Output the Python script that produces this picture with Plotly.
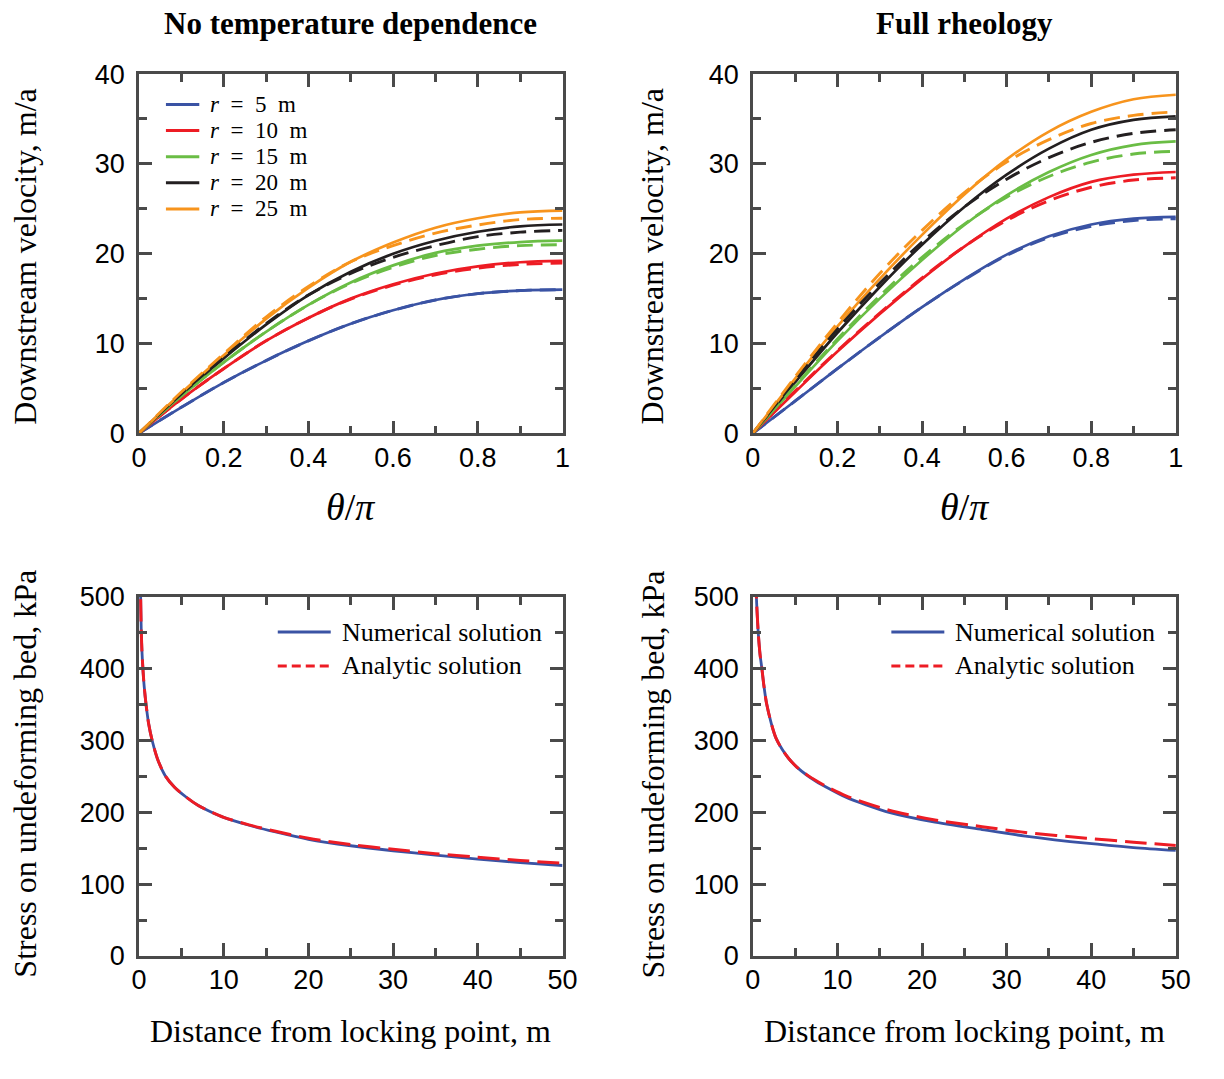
import plotly.graph_objects as go

# figure size; the page body keeps its default 8px margin around the figure
FIG_W, FIG_H = 1208, 1063
OFF_X, OFF_Y = 8, 8

# ---------------- data ----------------
theta = [0, 0.1, 0.2, 0.3, 0.4, 0.5, 0.6, 0.7, 0.8, 0.9, 1.0]
radii = [5, 10, 15, 20, 25]
r_colors = ["#3a53a4", "#ed1c24", "#6abd45", "#231f20", "#f7941d"]

# No temperature dependence: numerical (solid) and analytic (dashed), m/a
ntd_num_r5 = [0, 2.9, 5.65, 8.1, 10.3, 12.2, 13.7, 14.85, 15.55, 15.9, 16.0]
ntd_ana_r5 = [0, 2.9, 5.65, 8.1, 10.3, 12.2, 13.7, 14.85, 15.55, 15.9, 16.0]
ntd_num_r10 = [0, 3.8, 7.2, 10.3, 12.85, 15.0, 16.6, 17.8, 18.6, 19.05, 19.2]
ntd_ana_r10 = [0, 3.8, 7.2, 10.3, 12.85, 14.95, 16.5, 17.65, 18.4, 18.8, 18.95]
ntd_num_r15 = [0, 4.15, 7.9, 11.3, 14.3, 16.8, 18.7, 20.1, 20.9, 21.3, 21.45]
ntd_ana_r15 = [0, 4.15, 7.9, 11.3, 14.3, 16.7, 18.5, 19.8, 20.5, 20.9, 21.0]
ntd_num_r20 = [0, 4.35, 8.35, 12.1, 15.4, 18.0, 20.0, 21.45, 22.45, 23.05, 23.25]
ntd_ana_r20 = [0, 4.4, 8.45, 12.2, 15.4, 17.8, 19.6, 20.9, 21.9, 22.4, 22.6]
ntd_num_r25 = [0, 4.5, 8.7, 12.75, 16.2, 19.1, 21.25, 22.9, 23.95, 24.6, 24.8]
ntd_ana_r25 = [0, 4.6, 8.85, 12.95, 16.35, 19.1, 20.9, 22.3, 23.2, 23.8, 23.95]

# Full rheology: numerical (solid) and analytic (dashed), m/a
fr_num_r5 = [0, 3.6, 7.2, 10.7, 14.05, 17.15, 19.9, 21.95, 23.25, 23.9, 24.1]
fr_ana_r5 = [0, 3.6, 7.2, 10.7, 14.05, 17.1, 19.8, 21.8, 23.05, 23.7, 23.9]
fr_num_r10 = [0, 4.6, 9.1, 13.3, 17.2, 20.8, 23.9, 26.3, 28.0, 28.8, 29.1]
fr_ana_r10 = [0, 4.7, 9.2, 13.4, 17.3, 20.8, 23.7, 25.9, 27.4, 28.2, 28.45]
fr_num_r15 = [0, 5.2, 10.3, 15.0, 19.3, 23.2, 26.5, 29.1, 31.0, 32.1, 32.5]
fr_ana_r15 = [0, 5.3, 10.5, 15.3, 19.6, 23.3, 26.3, 28.6, 30.2, 31.1, 31.4]
fr_num_r20 = [0, 5.7, 11.2, 16.3, 21.0, 25.2, 28.8, 31.7, 33.8, 34.9, 35.3]
fr_ana_r20 = [0, 5.9, 11.6, 16.7, 21.3, 25.2, 28.3, 30.7, 32.4, 33.4, 33.8]
fr_num_r25 = [0, 6.1, 11.9, 17.2, 22.1, 26.6, 30.5, 33.6, 35.8, 37.2, 37.7]
fr_ana_r25 = [0, 6.3, 12.3, 17.8, 22.6, 26.8, 30.2, 32.7, 34.5, 35.4, 35.8]

# Stress on the undeforming bed, kPa, vs distance from locking point, m
ntd_dist = [0.12, 0.2, 0.27, 0.35, 0.46, 0.62, 0.85, 1.15, 1.56, 2.2, 3.1, 4.2,
            5.6, 7.0, 8.7, 10, 13, 16, 20, 25, 30, 35, 40, 45, 50]
ntd_stress_num = [580, 500, 453, 425, 401, 375, 349, 323, 300, 274, 251, 235,
                  221, 209.5, 199.5, 193, 182, 173, 162.5, 153.5, 146.5, 140.5, 135, 130, 126]
ntd_stress_ana = [580, 500, 453, 425, 401, 375, 349, 323, 300, 274, 251, 235,
                  221, 209.5, 199.5, 193, 182.5, 174, 164, 155, 148.5, 142.5, 137.5, 133, 129]

fr_dist = [0.25, 0.42, 0.64, 0.85, 1.06, 1.3, 1.6, 2.2, 2.75, 3.5, 4.24, 5.2,
           6.36, 7.5, 8.7, 11, 13.5, 16.1, 21.2, 27.1, 32.2, 39.4, 45, 50]
fr_stress_num = [570, 500, 450, 420, 401, 377, 353, 323, 303, 287, 275, 263,
                 252, 243, 235, 221, 210, 200, 187, 176, 167, 157, 151, 147]
fr_stress_ana = [570, 500, 450, 420, 401, 377, 353, 323, 303, 287, 275, 263,
                 252.5, 244, 236, 223, 212.5, 203, 190, 180, 172, 164, 158.5, 154]

panel_titles = ["No temperature dependence", "Full rheology"]
stress_labels = ["Numerical solution", "Analytic solution"]

# ---------------- styling ----------------
SERIF = "Liberation Serif, Times New Roman, serif"
SANS = "Liberation Sans, Arial, Helvetica, sans-serif"
AXC = "#4a4a4a"
NUM_BLUE = "#3a53a4"
ANA_RED = "#ed1c24"


def px(x):
    """page pixel x -> paper fraction"""
    return (x - OFF_X) / FIG_W


def py(y):
    """page pixel y (from top) -> paper fraction"""
    return 1 - (y - OFF_Y) / FIG_H


fig = go.Figure()

ntd_num = [ntd_num_r5, ntd_num_r10, ntd_num_r15, ntd_num_r20, ntd_num_r25]
ntd_ana = [ntd_ana_r5, ntd_ana_r10, ntd_ana_r15, ntd_ana_r20, ntd_ana_r25]
fr_num = [fr_num_r5, fr_num_r10, fr_num_r15, fr_num_r20, fr_num_r25]
fr_ana = [fr_ana_r5, fr_ana_r10, fr_ana_r15, fr_ana_r20, fr_ana_r25]

for (xa, ya, nums, anas) in [("x", "y", ntd_num, ntd_ana), ("x2", "y2", fr_num, fr_ana)]:
    for r, c, vn in zip(radii, r_colors, nums):
        fig.add_trace(go.Scatter(x=theta, y=vn, mode="lines", xaxis=xa, yaxis=ya,
                                 name=f"r = {r} m", showlegend=False,
                                 line=dict(color=c, width=2.7, shape="spline", smoothing=1.0)))
    for r, c, va in zip(radii, r_colors, anas):
        fig.add_trace(go.Scatter(x=theta, y=va, mode="lines", xaxis=xa, yaxis=ya,
                                 name=f"r = {r} m (analytic)", showlegend=False,
                                 line=dict(color=c, width=2.9, dash="16px,8px",
                                           shape="spline", smoothing=1.0)))

for (xa, ya, d, sn, sa) in [("x3", "y3", ntd_dist, ntd_stress_num, ntd_stress_ana),
                            ("x4", "y4", fr_dist, fr_stress_num, fr_stress_ana)]:
    fig.add_trace(go.Scatter(x=d, y=sn, mode="lines", xaxis=xa, yaxis=ya,
                             name=stress_labels[0], showlegend=False,
                             line=dict(color=NUM_BLUE, width=2.8, shape="spline", smoothing=0.8)))
    fig.add_trace(go.Scatter(x=d, y=sa, mode="lines", xaxis=xa, yaxis=ya,
                             name=stress_labels[1], showlegend=False,
                             line=dict(color=ANA_RED, width=3, dash="22px,8px",
                                       shape="spline", smoothing=0.8)))


def axis(domain, rng, dtick, minor_dtick, standoff):
    return dict(domain=domain, range=rng, dtick=dtick, tick0=0,
                showline=True, linecolor=AXC, linewidth=2.5, mirror="allticks",
                ticks="inside", ticklen=13, tickwidth=2.5, tickcolor=AXC,
                showgrid=False, zeroline=False, ticklabelstandoff=standoff,
                tickfont=dict(family=SANS, size=27, color="black"),
                minor=dict(ticks="inside", ticklen=8, tickwidth=2.5, tickcolor=AXC,
                           dtick=minor_dtick, tick0=0, showgrid=False))


XL = [px(141.5), px(573.3)]
XR = [px(767.3), px(1198.5)]
YT = [py(438.5), py(68.8)]
YB = [py(976.3), py(606.8)]

fig.update_layout(
    width=FIG_W, height=FIG_H,
    margin=dict(l=0, r=0, t=0, b=0),
    paper_bgcolor="white", plot_bgcolor="white",
    showlegend=False,
    xaxis=dict(axis(XL, [0, 1], 0.2, 0.1, -2), anchor="y"),
    yaxis=dict(axis(YT, [0, 40], 10, 5, 6), anchor="x"),
    xaxis2=dict(axis(XR, [0, 1], 0.2, 0.1, -2), anchor="y2"),
    yaxis2=dict(axis(YT, [0, 40], 10, 5, 6), anchor="x2"),
    xaxis3=dict(axis(XL, [0, 50], 10, 5, -2), anchor="y3"),
    yaxis3=dict(axis(YB, [0, 500], 100, 50, 6), anchor="x3"),
    xaxis4=dict(axis(XR, [0, 50], 10, 5, -2), anchor="y4"),
    yaxis4=dict(axis(YB, [0, 500], 100, 50, 6), anchor="x4"),
)

ann = []
shapes = []

# panel titles
for t, cx in zip(panel_titles, [357.4, 982.9]):
    ann.append(dict(text=f"<b>{t}</b>", x=px(cx), y=py(17), xref="paper", yref="paper",
                    xanchor="center", yanchor="middle", showarrow=False,
                    font=dict(family=SERIF, size=31, color="black")))

# axis titles
for cx in [357.4, 982.9]:
    ann.append(dict(text="<i>θ</i>/<i>π</i>", x=px(cx), y=py(514), xref="paper", yref="paper",
                    xanchor="center", yanchor="middle", showarrow=False,
                    font=dict(family=SERIF, size=38, color="black")))
    ann.append(dict(text="Distance from locking point, m", x=px(cx), y=py(1053),
                    xref="paper", yref="paper", xanchor="center", yanchor="middle",
                    showarrow=False, font=dict(family=SERIF, size=32, color="black")))
for cx in [25, 665]:
    ann.append(dict(text="Downstream velocity, m/a", x=px(cx), y=py(256), xref="paper",
                    yref="paper", xanchor="center", yanchor="middle", textangle=-90,
                    showarrow=False, font=dict(family=SERIF, size=32, color="black")))
    ann.append(dict(text="Stress on undeforming bed, kPa", x=px(cx), y=py(789), xref="paper",
                    yref="paper", xanchor="center", yanchor="middle", textangle=-90,
                    showarrow=False, font=dict(family=SERIF, size=32, color="black")))

# legend for radii (top-left panel)
for i, (r, c) in enumerate(zip(radii, r_colors)):
    yy = 100 + 26.9 * i
    shapes.append(dict(type="line", xref="paper", yref="paper", x0=px(169), x1=px(203),
                       y0=py(yy), y1=py(yy), line=dict(color=c, width=3)))
    ann.append(dict(text=f"<i>r</i>\u2002=\u2002{r}\u2002m", x=px(212), y=py(yy),
                    xref="paper", yref="paper", xanchor="left", yanchor="middle",
                    showarrow=False, font=dict(family=SERIF, size=23, color="black")))

# legends for stress panels
for x0 in [283, 908.5]:
    for j, (lab, c, dash) in enumerate(zip(stress_labels, [NUM_BLUE, ANA_RED], ["solid", "9px,5px"])):
        yy = 643 + 34.8 * j
        shapes.append(dict(type="line", xref="paper", yref="paper", x0=px(x0), x1=px(x0 + 54),
                           y0=py(yy), y1=py(yy), line=dict(color=c, width=3, dash=dash)))
        ann.append(dict(text=lab, x=px(x0 + 63), y=py(yy), xref="paper", yref="paper",
                        xanchor="left", yanchor="middle", showarrow=False,
                        font=dict(family=SERIF, size=26, color="black")))

fig.update_layout(annotations=ann, shapes=shapes)

fig.write_html("out.html")
